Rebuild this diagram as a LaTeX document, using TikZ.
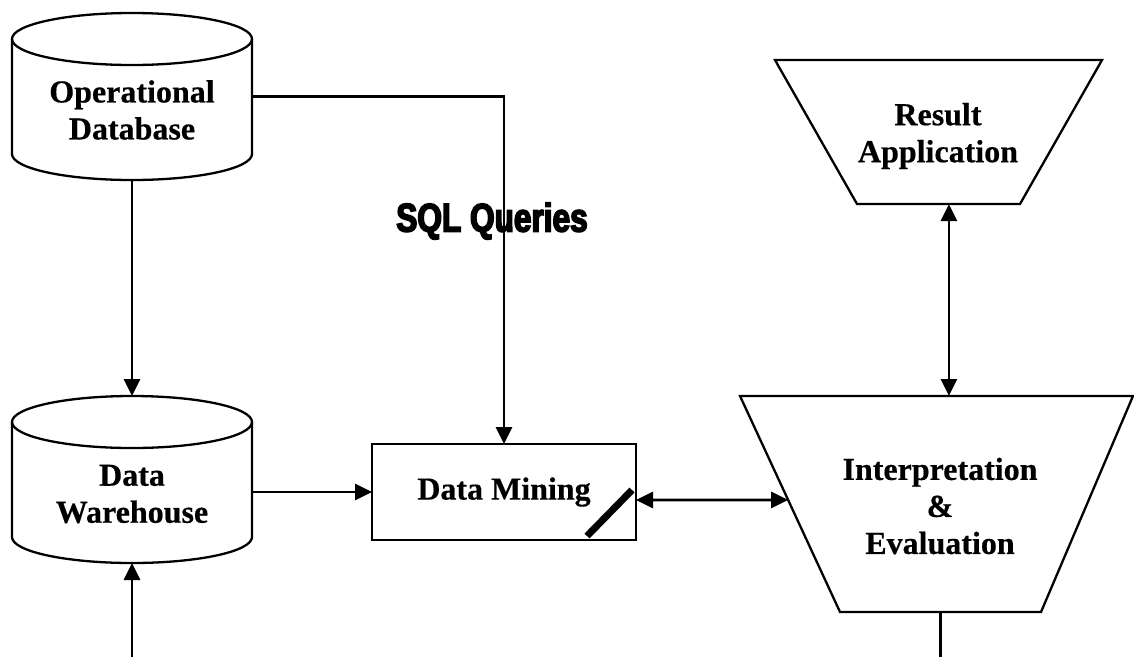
\documentclass[tikz,border=0pt]{standalone}
\usepackage{fontspec}
\setmainfont{Liberation Serif}[BoldFeatures={FakeBold=0.5}]
\newfontfamily\sqlfont{Liberation Sans}[BoldFeatures={FakeBold=4,FakeStretch=0.79}]
\usetikzlibrary{arrows.meta,calc}

\tikzset{
  outline/.style={line width=2.3pt, draw=black},
  conn/.style={line width=2.8pt},
  tip/.style={-{Triangle[length=17pt,width=16pt]}},
  bitip/.style={{Triangle[length=17pt,width=16pt]}-{Triangle[length=17pt,width=16pt]}},
  lbl/.style={font=\fontsize{32}{37}\selectfont\bfseries, align=center, inner sep=0pt},
  dbshape/.style={minimum width=240pt, minimum height=167pt, inner sep=0pt, outer sep=0pt},
  slashmark/.style={line width=7pt},
}

% cylinder outline around a named rectangular node; #2 = cap half-height
\newcommand\dbdraw[2]{%
  \draw[outline] ([yshift=-#2pt]#1.north west) -- ([yshift=#2pt]#1.south west)
    arc[start angle=180, end angle=360, x radius=120pt, y radius=#2pt]
    -- ([yshift=-#2pt]#1.north east);
  \draw[outline] ([yshift=-#2pt]#1.north) ellipse[x radius=120pt, y radius=#2pt];
}

\begin{document}
\begin{tikzpicture}[x=1pt, y=-1pt]
\useasboundingbox (0,0) rectangle (1134,657);

% databases
\node[dbshape] (odb) at (132,96.5) {};
\dbdraw{odb}{26}
\node[lbl] (odbtext) at (132,110) {Operational\\Database};

\node[dbshape] (dw) at (132,479.5) {};
\dbdraw{dw}{26}
\node[lbl] (dwtext) at (132,494) {Data\\Warehouse};

% mining step
\node[outline, lbl, minimum width=264pt, minimum height=96pt, outer sep=0pt] (dm) at (504,492) {Data Mining};
\draw[slashmark] ($(dm.south east)+(-49,-4)$) -- ($(dm.south east)+(-4,-50)$);

% result application funnel
\coordinate (ra-tl) at (775,60);
\coordinate (ra-tr) at (1102,60);
\coordinate (ra-br) at (1020,204);
\coordinate (ra-bl) at (857,204);
\draw[outline] (ra-tl) -- (ra-tr) -- (ra-br) -- (ra-bl) -- cycle;
\node[lbl] (ra) at (938,136) {Result\\Application};

% interpretation funnel
\coordinate (ie-tl) at (740,396);
\coordinate (ie-tr) at (1133,396);
\coordinate (ie-br) at (1041,612);
\coordinate (ie-bl) at (840,612);
\draw[outline] (ie-tl) -- (ie-tr) -- (ie-br) -- (ie-bl) -- cycle;
\node[lbl] (ie) at (940,506) {Interpretation\\\&\\Evaluation};

% query label
\node[inner sep=0pt] (sql) at (492,221) {\sqlfont\bfseries\fontsize{40}{40}\selectfont SQL Queries};

% connectors
\coordinate (dwin) at (132,657);
\coordinate (ieout) at (940.5,657);
\coordinate (raport) at ($(ra-bl)!0.564!(ra-br)$);
\coordinate (ieport) at ($(ie-tl)!0.481!(ie-bl)$);

\draw[conn,tip] (odb.south) -- (dw.north);
\draw[conn,tip] (dwin) -- (dw.south);
\draw[conn,tip] (odb.east) -| (dm.north);
\draw[conn,tip] (dw.east |- dm.west) -- (dm.west);
\draw[conn,bitip] ($(dm.east)+(0,8)$) -- (ieport);
\draw[conn,bitip] (raport) -- (raport |- ie-tl);
\draw[conn] ($(ie-bl)!0.5!(ie-br)$) -- (ieout);
\end{tikzpicture}
\end{document}
